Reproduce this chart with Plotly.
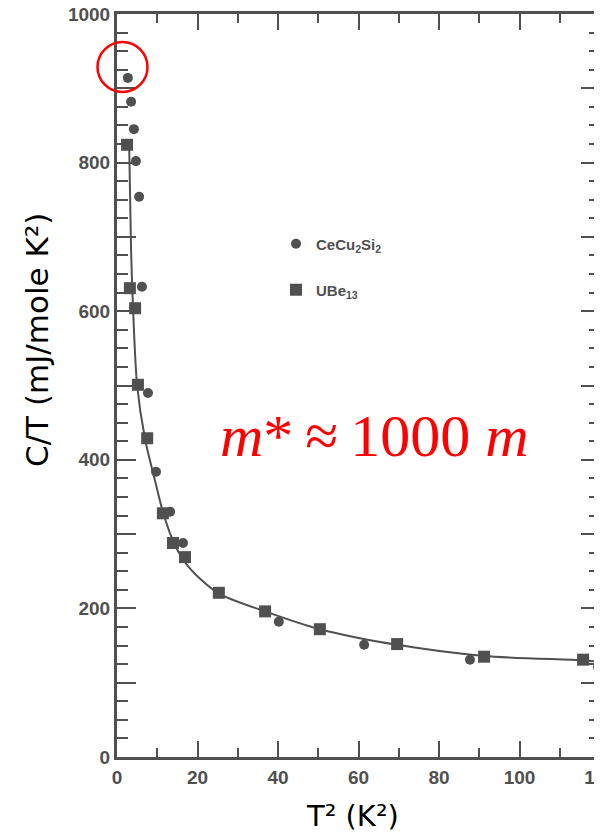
import plotly.graph_objects as go

# ---- data ----
ce_x = [2.7, 3.5, 4.2, 4.7, 5.5, 6.2, 7.7, 9.7, 13.2, 16.4, 40.2, 61.4, 87.7, 119.5]
ce_y = [914, 882, 845, 802, 754, 633, 490, 384, 330, 288, 182, 151, 131, 121]

ube_x = [2.5, 3.2, 4.5, 5.2, 7.5, 11.4, 13.9, 16.9, 25.3, 36.8, 50.4, 69.6, 91.2, 115.8]
ube_y = [824, 631, 604, 501, 429, 328, 288, 269, 221, 196, 172, 152, 135, 131]

fit_x = [3.0, 3.5, 4.0, 5.0, 7.0, 9.4, 11.5, 14.4, 18.1, 25.0, 36.8, 50.4, 69.6, 91.2, 115.8, 120.0]
fit_y = [830, 682, 602, 500, 427, 373, 328, 285, 254, 221, 196, 172, 151, 136, 130, 128]

x_tickvals = [0, 20, 40, 60, 80, 100, 120]
x_ticktext = ["0", "20", "40", "60", "80", "100", "120"]
y_tickvals = [0, 100, 200, 300, 400, 500, 600, 700, 800, 900, 1000]
y_ticktext = ["0", "", "200", "", "400", "", "600", "", "800", "", "1000"]

INK = "#505050"

fig = go.Figure()
fig.add_trace(go.Scatter(x=fit_x, y=fit_y, mode="lines",
                         line=dict(color=INK, width=2, shape="spline", smoothing=0.8),
                         showlegend=False, hoverinfo="skip"))
fig.add_trace(go.Scatter(x=ce_x, y=ce_y, mode="markers", name="CeCu<sub>2</sub>Si<sub>2</sub>",
                         marker=dict(symbol="circle", size=10, color=INK), legend="legend"))
fig.add_trace(go.Scatter(x=ube_x, y=ube_y, mode="markers", name="UBe<sub>13</sub>",
                         marker=dict(symbol="square", size=12, color=INK), legend="legend2"))

OFF = 8  # page body margin
W, H = 602 - OFF, 832 - OFF
L, T = 117 - OFF, 14 - OFF
R = W - (600 - OFF)
B = H - (757 - OFF)
pw, ph = W - L - R, H - T - B

def px_x(p):
    return (p - OFF - L) / pw

def px_y(p):
    return (H - B - (p - OFF)) / ph

tickfont = dict(family="Liberation Sans, Arial", size=19, color=INK, weight="bold")
legfont = dict(family="Liberation Sans, Arial", size=15, color=INK, weight="bold")

fig.update_layout(
    width=W, height=H, autosize=False,
    margin=dict(l=L, r=R, t=T, b=B, autoexpand=False),
    paper_bgcolor="white", plot_bgcolor="white",
    xaxis=dict(range=[0, 120], tickmode="array", tickvals=x_tickvals, ticktext=x_ticktext,
               ticks="inside", ticklen=16, tickwidth=2, tickcolor=INK,
               minor=dict(dtick=10, tick0=0, ticks="inside", ticklen=9, tickwidth=2, tickcolor=INK, showgrid=False),
               showline=True, linewidth=3, linecolor=INK, mirror="allticks",
               showgrid=False, zeroline=False, tickfont=tickfont, ticklabelstandoff=1,
               ticklabeloverflow="allow", automargin=False),
    yaxis=dict(range=[0, 1000], tickmode="array", tickvals=y_tickvals, ticktext=y_ticktext,
               ticks="inside", ticklen=19, tickwidth=2, tickcolor=INK,
               minor=dict(dtick=25, tick0=0, ticks="inside", ticklen=11, tickwidth=2, tickcolor=INK, showgrid=False),
               showline=True, linewidth=3, linecolor=INK, mirror="allticks",
               showgrid=False, zeroline=False, tickfont=tickfont, ticklabelstandoff=0,
               ticklabeloverflow="allow", automargin=False),
    legend=dict(x=px_x(276), y=px_y(244), xanchor="left", yanchor="middle", bgcolor="rgba(0,0,0,0)",
                font=legfont, itemwidth=30),
    legend2=dict(x=px_x(276), y=px_y(290), xanchor="left", yanchor="middle", bgcolor="rgba(0,0,0,0)",
                 font=legfont, itemwidth=30),
    annotations=[
        dict(text="C/T (mJ/mole K²)", textangle=-90, xref="paper", yref="paper",
             x=px_x(37), y=px_y(340), xanchor="center", yanchor="middle", showarrow=False,
             font=dict(family="DejaVu Sans, Verdana", size=31, color="black")),
        dict(text="T² (K²)", xref="paper", yref="paper",
             x=px_x(352), y=px_y(816), xanchor="center", yanchor="middle", showarrow=False,
             font=dict(family="DejaVu Sans, Verdana", size=29, color="black")),
        dict(text="<i>m</i>*\u2009≈\u20091000 <i>m</i>", xref="paper", yref="paper",
             x=px_x(374), y=px_y(436), xanchor="center", yanchor="middle", showarrow=False,
             font=dict(family="Liberation Serif, Times New Roman", size=60, color="red")),
    ],
    shapes=[
        dict(type="circle", xref="paper", yref="paper",
             x0=px_x(97.5), x1=px_x(147.5), y0=px_y(92), y1=px_y(42),
             line=dict(color="red", width=2.5)),
    ],
)

fig.write_html("out.html")
